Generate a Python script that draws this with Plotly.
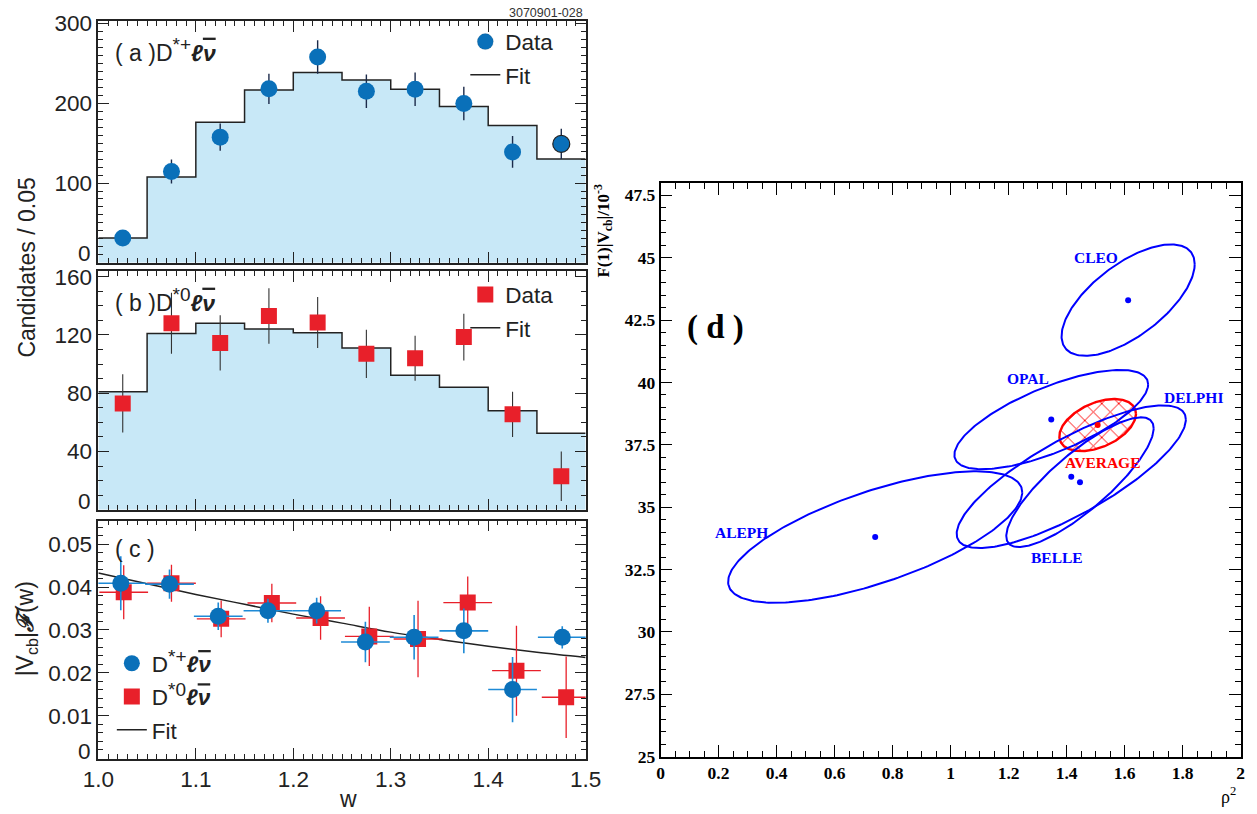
import numpy as np
import plotly.graph_objects as go

W, H = 1257, 814
# measured rendering transform of this viewer: shown = S * page + (OX, OY)
S, OX, OY = 0.976, 14.5, 8.0
def rx(x): return (x - OX) / S          # reference pixel -> page pixel
def ry(y): return (y - OY) / S
def px(x): return rx(x) / W             # reference pixel -> paper fraction
def py(y): return 1 - ry(y) / H
def ppx(p): return p / W                # page pixel -> paper fraction
def ppy(p): return 1 - p / H

# ---------------- data ----------------
w_edges = [1.0, 1.05, 1.10, 1.15, 1.20, 1.25, 1.30, 1.35, 1.40, 1.45, 1.50]
w_centers = [1.025, 1.075, 1.125, 1.175, 1.225, 1.275, 1.325, 1.375, 1.425, 1.475]

# panel (a) D*+ l nu
fit_a = [31, 107.5, 176, 216.5, 238.5, 229, 217.5, 196, 172, 130]
data_a = [31, 114.5, 157.5, 218, 258, 215, 217.5, 199.5, 139, 149]
err_a = [8, 15, 17, 19, 21, 21, 21, 21, 20, 19]
yticks_a = [100, 200, 300]

# panel (b) D*0 l nu
fit_b = [81, 121, 128, 124, 121.5, 111, 92.3, 84, 68, 52.5]
data_b = [73, 128, 114.5, 133, 128.5, 107, 104, 118.5, 65.5, 23]
err_b = [20, 21, 19, 19, 17.5, 16.5, 15.5, 16, 15.5, 17]
yticks_b = [40, 80, 120, 160]

# panel (c) |Vcb| F(w)
c_plus_w = [1.023, 1.073, 1.123, 1.174, 1.224, 1.274, 1.324, 1.375, 1.425, 1.476]
c_plus_v = [0.0409, 0.0407, 0.0332, 0.0345, 0.0345, 0.0272, 0.0283, 0.0298, 0.0161, 0.0283]
c_plus_e = [0.0063, 0.0034, 0.0032, 0.0028, 0.0030, 0.0047, 0.0052, 0.0052, 0.0076, 0.0026]
c_zero_w = [1.026, 1.075, 1.126, 1.178, 1.228, 1.278, 1.328, 1.379, 1.429, 1.480]
c_zero_v = [0.0388, 0.0409, 0.0326, 0.0363, 0.0328, 0.0285, 0.0279, 0.0364, 0.0205, 0.0143]
c_zero_e = [0.0063, 0.0043, 0.0043, 0.0045, 0.0051, 0.0069, 0.0089, 0.0061, 0.0105, 0.0095]
c_half_bin = 0.025
fit_c_w = [1.0, 1.05, 1.10, 1.15, 1.20, 1.25, 1.30, 1.35, 1.40, 1.45, 1.50]
fit_c_v = [0.0433, 0.0408, 0.0383, 0.0360, 0.0337, 0.0316, 0.0295, 0.0278, 0.0262, 0.0248, 0.0236]
yticks_c = [0.01, 0.02, 0.03, 0.04, 0.05]

# panel (d) ellipses: centre, half-extent in x and y, correlation
ell_names = ["CLEO", "OPAL", "DELPHI", "BELLE", "ALEPH"]
ell_cx = [1.612, 1.347, 1.416, 1.446, 0.740]
ell_cy = [43.30, 38.51, 36.22, 36.00, 33.80]
ell_ax = [0.2295, 0.334, 0.395, 0.254, 0.507]
ell_ay = [2.235, 1.99, 2.86, 2.60, 2.635]
ell_rho = [0.645, 0.71, 0.80, 0.83, 0.68]
ell_lab_x = [1.500, 1.266, 1.836, 1.366, 0.278]
ell_lab_y = [45.02, 40.17, 39.40, 33.00, 34.00]
avg_cx, avg_cy, avg_ax, avg_ay, avg_rho = 1.507, 38.29, 0.132, 1.045, 0.43
avg_lab_x, avg_lab_y = 1.525, 36.80

# ---------------- styles ----------------
BLUE = "#0a70b9"
EBLUE = "#1e8ad6"
RED = "#e8202a"
FILL = "#c8e8f7"
SANS = "Liberation Sans, Arial, sans-serif"
SERIF = "Liberation Serif, Times New Roman, serif"
TXT = "#222222"
FS = 22.5

LNU = '<b><i>ℓ<span style="text-decoration:overline">ν</span></i></b>'
SUPP = '<sup><span style="font-size:19px">*+</span></sup>'
SUP0 = '<sup><span style="font-size:19px">*0</span></sup>'

fig = go.Figure()

def steps(vals):
    return list(vals) + [vals[-1]]

# panel a
fig.add_trace(go.Scatter(x=w_edges, y=steps(fit_a), mode="lines", line_shape="hv",
                         fill="tozeroy", fillcolor=FILL, line=dict(color="#222", width=1.5),
                         showlegend=False, xaxis="x", yaxis="y"))
fig.add_trace(go.Scatter(x=w_centers, y=data_a, mode="markers", name="Data", legendgroup="a1",
                         marker=dict(color=BLUE, size=17, symbol="circle",
                                     line=dict(color="#222", width=[0]*9 + [1.2])),
                         error_y=dict(type="data", array=err_a, color="#1b2a4a", thickness=1.4, width=0),
                         xaxis="x", yaxis="y", legend="legend"))
fig.add_trace(go.Scatter(x=[None], y=[None], mode="lines", name="Fit", legendgroup="a2",
                         line=dict(color="#222", width=1.5), xaxis="x", yaxis="y", legend="legend"))

# panel b
fig.add_trace(go.Scatter(x=w_edges, y=steps(fit_b), mode="lines", line_shape="hv",
                         fill="tozeroy", fillcolor=FILL, line=dict(color="#222", width=1.5),
                         showlegend=False, xaxis="x2", yaxis="y2"))
fig.add_trace(go.Scatter(x=w_centers, y=data_b, mode="markers", name="Data", legendgroup="b1",
                         marker=dict(color=RED, size=16, symbol="square"),
                         error_y=dict(type="data", array=err_b, color="#333", thickness=1.1, width=0),
                         xaxis="x2", yaxis="y2", legend="legend2"))
fig.add_trace(go.Scatter(x=[None], y=[None], mode="lines", name="Fit", legendgroup="b2",
                         line=dict(color="#222", width=1.5), xaxis="x2", yaxis="y2", legend="legend2"))

# panel c
lab_plus = "D" + SUPP + LNU
lab_zero = "D" + SUP0 + LNU
fig.add_trace(go.Scatter(x=fit_c_w, y=fit_c_v, mode="lines", line_shape="spline", name="Fit",
                         legendgroup="c3", line=dict(color="#222", width=1.5), xaxis="x3", yaxis="y3",
                         legend="legend3", legendrank=3))
fig.add_trace(go.Scatter(x=c_zero_w, y=c_zero_v, mode="markers", name=lab_zero, legendgroup="c2",
                         marker=dict(color=RED, size=16, symbol="square"),
                         error_y=dict(type="data", array=c_zero_e, color=RED, thickness=1.3, width=0),
                         error_x=dict(type="constant", value=c_half_bin, color=RED, thickness=1.3, width=0),
                         xaxis="x3", yaxis="y3", legend="legend3", legendrank=2))
fig.add_trace(go.Scatter(x=c_plus_w, y=c_plus_v, mode="markers", name=lab_plus, legendgroup="c1",
                         marker=dict(color=BLUE, size=17, symbol="circle"),
                         error_y=dict(type="data", array=c_plus_e, color=EBLUE, thickness=1.6, width=0),
                         error_x=dict(type="constant", value=c_half_bin, color=EBLUE, thickness=1.6, width=0),
                         xaxis="x3", yaxis="y3", legend="legend3", legendrank=1))

# panel d
t = np.linspace(0, 2 * np.pi, 241)
def ellipse(cx, cy, ax, ay, rho):
    xs = cx + ax * np.cos(t)
    ys = cy + ay * (rho * np.cos(t) + np.sqrt(1 - rho ** 2) * np.sin(t))
    return xs, ys

xa, ya = ellipse(avg_cx, avg_cy, avg_ax, avg_ay, avg_rho)
fig.add_trace(go.Scatter(x=xa, y=ya, mode="lines", fill="toself", fillcolor="rgba(0,0,0,0)",
                         fillpattern=dict(shape="x", fgcolor="#ff0000", fgopacity=1,
                                          bgcolor="rgba(255,255,255,0)", size=12, solidity=0.15),
                         line=dict(color="red", width=2.4), showlegend=False, xaxis="x4", yaxis="y4"))
for i in range(len(ell_names)):
    xs, ys = ellipse(ell_cx[i], ell_cy[i], ell_ax[i], ell_ay[i], ell_rho[i])
    fig.add_trace(go.Scatter(x=xs, y=ys, mode="lines", line=dict(color="#0000ff", width=2),
                             showlegend=False, xaxis="x4", yaxis="y4"))
fig.add_trace(go.Scatter(x=ell_cx, y=ell_cy, mode="markers", marker=dict(color="#0000ff", size=6),
                         showlegend=False, xaxis="x4", yaxis="y4"))
fig.add_trace(go.Scatter(x=[avg_cx], y=[avg_cy], mode="markers", marker=dict(color="red", size=6),
                         showlegend=False, xaxis="x4", yaxis="y4"))

# ---------------- axes ----------------
def left_axis(**kw):
    d = dict(showline=True, linecolor="#222", linewidth=1.5, mirror="allticks",
             ticks="inside", ticklen=11, tickwidth=1.2, tickcolor="#222",
             showgrid=False, zeroline=False,
             tickfont=dict(family=SANS, size=FS, color=TXT))
    d.update(kw)
    return d

def yminor(dt):
    return dict(ticks="inside", ticklen=5, dtick=dt, tick0=0, tickcolor="#222", tickwidth=1)

xr = [1.0, 1.5]
xminor = dict(ticks="inside", ticklen=5, dtick=0.01, tickcolor="#222", tickwidth=1, showgrid=False)
XL, XR = px(97), px(585)
layout_axes = dict(
    xaxis=left_axis(domain=[XL, XR], range=xr, dtick=0.1, anchor="y",
                    showticklabels=False, minor=xminor),
    yaxis=left_axis(domain=[py(261), py(19)], range=[0, 303], tickmode="array",
                    tickvals=yticks_a, anchor="x", minor=yminor(10)),
    xaxis2=left_axis(domain=[XL, XR], range=xr, dtick=0.1, anchor="y2",
                     showticklabels=False, minor=xminor),
    yaxis2=left_axis(domain=[py(508), py(269)], range=[0, 164], tickmode="array",
                     tickvals=yticks_b, anchor="x2", minor=yminor(10)),
    xaxis3=left_axis(domain=[XL, XR], range=xr, dtick=0.1, anchor="y3",
                     tickformat=".1f", minor=xminor),
    yaxis3=left_axis(domain=[py(757), py(519)], range=[0, 0.0555], tickmode="array",
                     tickvals=yticks_c, anchor="x3", minor=yminor(0.002)),
    xaxis4=dict(domain=[px(660), px(1241)], range=[0, 2], dtick=0.2, anchor="y4",
                showline=True, linecolor="black", linewidth=1.5, mirror="allticks",
                ticks="inside", ticklen=12, tickwidth=1.2, tickcolor="black",
                showgrid=False, zeroline=False,
                tickfont=dict(family=SERIF, size=17.5, color="black", weight="bold"),
                minor=dict(ticks="inside", ticklen=6, dtick=0.05, tickcolor="black", tickwidth=1)),
    yaxis4=dict(domain=[py(755), py(181)], range=[25, 48], dtick=2.5, anchor="x4",
                showline=True, linecolor="black", linewidth=1.5, mirror="allticks",
                ticks="inside", ticklen=12, tickwidth=1.2, tickcolor="black",
                showgrid=False, zeroline=False,
                tickfont=dict(family=SERIF, size=17.5, color="black", weight="bold"),
                minor=dict(ticks="inside", ticklen=6, dtick=0.5, tickcolor="black", tickwidth=1)),
)

# legends: given the reference centre of the first item marker
legfont = dict(family=SANS, size=FS, color=TXT)
def leg(mx, my):
    return dict(x=ppx(rx(mx) - 20), y=ppy(ry(my) - 21), xanchor="left", yanchor="top",
                bgcolor="rgba(0,0,0,0)", font=legfont, itemsizing="trace",
                traceorder="grouped", tracegroupgap=1)
legends = dict(legend=leg(484, 39), legend2=leg(484, 292), legend3=leg(130, 661))

ann = []
def A(text, x, y, **kw):
    d = dict(text=text, x=x, y=y, xref="paper", yref="paper", showarrow=False)
    d.update(kw)
    ann.append(d)

fT = dict(family=SANS, size=FS + 0.5, color=TXT)
A("( a )D" + SUPP + LNU, px(112), py(48), xanchor="left", yanchor="middle", font=fT)
A("( b )D" + SUP0 + LNU, px(112), py(298), xanchor="left", yanchor="middle", font=fT)
A("( c )", px(112), py(547), xanchor="left", yanchor="middle", font=fT)
A("3070901-028", px(584), ppy(12), xanchor="right", yanchor="bottom",
  font=dict(family=SANS, size=12.5, color="#333"))
A("Candidates / 0.05", ppx(max(rx(22), 11)), py(266), xanchor="center", yanchor="middle",
  textangle=-90, font=fT)
A("|V<sub>cb</sub>|<b><i>ℱ</i></b>(w)", ppx(max(rx(22), 11)), py(627), xanchor="center",
  yanchor="middle", textangle=-90, font=fT)
A("w", px(347), py(797), xanchor="center", yanchor="middle", font=fT)
# zero labels of the stacked panels (drawn raised above the frame corner, as in the original)
for yy in (252, 500, 750):
    A("0", px(92), py(yy), xanchor="right", yanchor="middle",
      font=dict(family=SANS, size=FS, color=TXT))

# panel d texts
for i in range(len(ell_names)):
    ann.append(dict(text="<b>%s</b>" % ell_names[i], x=ell_lab_x[i], y=ell_lab_y[i],
                    xref="x4", yref="y4", showarrow=False,
                    font=dict(family=SERIF, size=15.5, color="#0000ff")))
ann.append(dict(text="<b>AVERAGE</b>", x=avg_lab_x, y=avg_lab_y, xref="x4", yref="y4",
                showarrow=False, font=dict(family=SERIF, size=15.5, color="red")))
ann.append(dict(text="<b>( d )</b>", x=0.19, y=42.2, xref="x4", yref="y4", showarrow=False,
                font=dict(family=SERIF, size=33, color="black")))
A("<b>F(1)|V<sub>cb</sub>|/10<sup>-3</sup></b>", px(603), py(180), xanchor="center", yanchor="top",
  textangle=-90, font=dict(family=SERIF, size=17, color="black"))
A("ρ<sup>2</sup>", px(1238), py(794), xanchor="right", yanchor="middle",
  font=dict(family=SERIF, size=18, color="black"))

fig.update_layout(width=W, height=H, margin=dict(l=0, r=0, t=0, b=0),
                  paper_bgcolor="white", plot_bgcolor="rgba(0,0,0,0)",
                  annotations=ann, **layout_axes, **legends)

fig.write_html("out.html", config={"displayModeBar": False},
               post_script="document.body.style.margin='0px';document.body.style.overflow='hidden';")
